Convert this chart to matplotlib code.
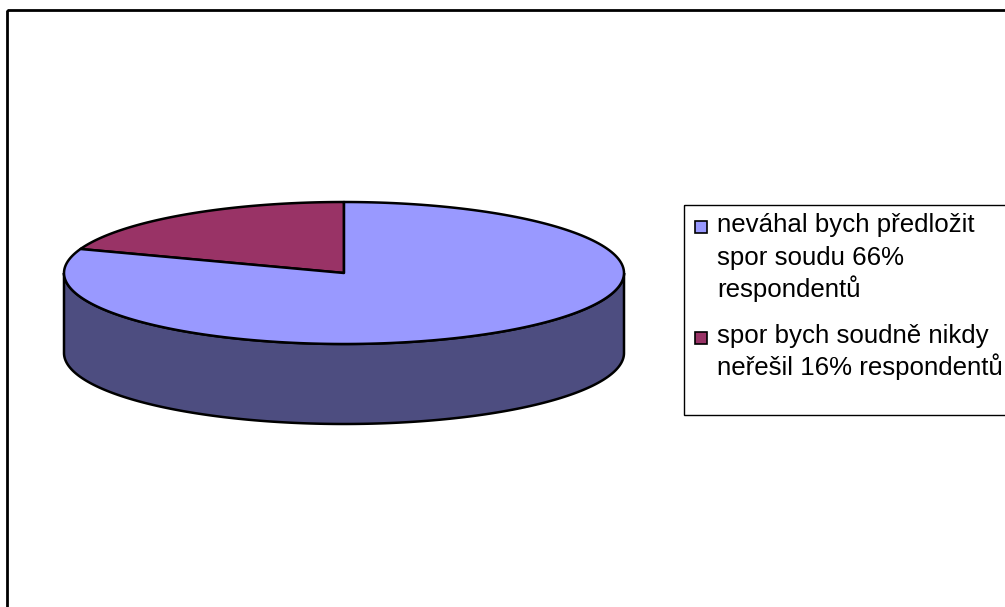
import numpy as np
import matplotlib.pyplot as plt
from matplotlib.patches import Polygon, Rectangle

plt.rcParams['font.family'] = ['Liberation Sans', 'DejaVu Sans']

# survey answers (share of respondents, %)
answers = ['neváhal bych předložit\nspor soudu {}%\nrespondentů',
           'spor bych soudně nikdy\nneřešil {}% respondentů']
shares = [66, 16]
top_colors = ['#9999ff', '#993366']
side_colors = ['#4d4d80', '#4d1a33']

# pie geometry in pixels
cx, cy = 344, 273
rx, ry = 280, 71
depth = 80

fig = plt.figure(figsize=(10.05, 6.07), dpi=100)
ax = fig.add_axes([0, 0, 1, 1])
ax.set_xlim(0, 1005)
ax.set_ylim(607, 0)
ax.axis('off')

# outer chart frame
ax.add_patch(Rectangle((7, 10), 1100, 700, fill=False, edgecolor='black', lw=2))


def ellipse_pts(t0, t1, dy=0, n=200):
    t = np.radians(np.linspace(t0, t1, n))
    return np.column_stack([cx + rx * np.cos(t), cy + dy - ry * np.sin(t)])


# slices go counter-clockwise starting at 12 o'clock, smallest one first
fracs = np.array(shares[::-1], dtype=float) / sum(shares)
bounds = 90 + 360 * np.concatenate([[0], np.cumsum(fracs)])
slice_colors = top_colors[::-1]
slice_sides = side_colors[::-1]

# visible side wall (front half, 180..360 degrees)
for i in range(len(fracs)):
    a0, a1 = max(bounds[i], 180), min(bounds[i + 1], 360)
    if a1 <= a0:
        a0, a1 = max(bounds[i] - 360, 180), min(bounds[i + 1] - 360, 360)
    if a1 > a0:
        top = ellipse_pts(a0, a1)
        bot = ellipse_pts(a1, a0, dy=depth)
        ax.add_patch(Polygon(np.vstack([top, bot]), closed=True,
                             facecolor=slice_sides[i], edgecolor='black', lw=1.8))

# top faces
for i in range(len(fracs)):
    arc = ellipse_pts(bounds[i], bounds[i + 1])
    pts = np.vstack([[cx, cy], arc])
    ax.add_patch(Polygon(pts, closed=True, facecolor=slice_colors[i],
                         edgecolor='black', lw=1.8, joinstyle='round'))

# legend box
ax.add_patch(Rectangle((684, 205), 400, 210, fill=False, edgecolor='black', lw=1))
entry_base = [232, 343]
line_h = 32.5
for lab, val, col, y0 in zip(answers, shares, top_colors, entry_base):
    ax.add_patch(Rectangle((695, y0 - 11.5), 12, 12, facecolor=col,
                           edgecolor='black', lw=1.2))
    for k, line in enumerate(lab.format(val).split('\n')):
        ax.text(717, y0 + k * line_h, line, fontsize=18.6, va='baseline', ha='left')

fig.savefig('out.png', dpi=100)
